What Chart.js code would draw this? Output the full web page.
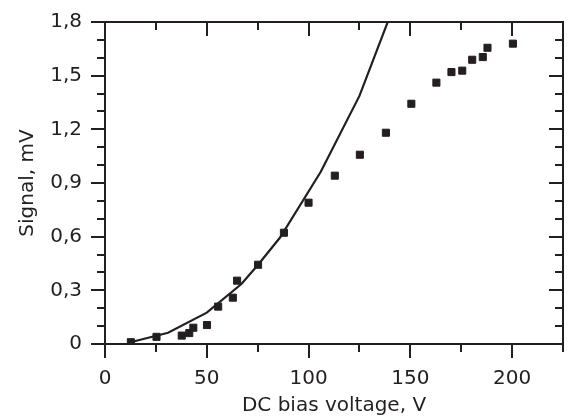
<!DOCTYPE html>
<html>
<head>
<meta charset="utf-8">
<script src="https://cdn.jsdelivr.net/npm/chart.js@4/dist/chart.umd.min.js"></script>
<style>
  body { margin: 0; background: #fff; }
  #wrap { width: 569px; height: 418px; }
</style>
</head>
<body>
<div id="wrap"><canvas id="chartSignal" width="569" height="418"></canvas></div>
<script>
// measured points
var voltage = [12.7, 25.3, 37.7, 41.4, 43.4, 50.1, 55.6, 62.8, 64.9, 75.2, 87.9, 100, 112.9, 125.2, 138, 150.5, 162.8, 170.2, 175.5, 180.4, 185.6, 187.9, 200.4];
var signal  = [0.01, 0.04, 0.047, 0.061, 0.091, 0.106, 0.209, 0.259, 0.354, 0.443, 0.622, 0.79, 0.941, 1.058, 1.181, 1.343, 1.461, 1.52, 1.528, 1.589, 1.604, 1.656, 1.679];

// calculated curve
var modelVoltage = [12.5, 31, 50, 67, 75, 86, 106, 125, 150];
var modelSignal  = [0.01, 0.063, 0.175, 0.335, 0.44, 0.595, 0.963, 1.387, 2.13];

// axes
var xTicks = [0, 50, 100, 150, 200];
var xMinor = [25, 75, 125, 175, 225];
var yTicks = [0, 0.3, 0.6, 0.9, 1.2, 1.5, 1.8];
var yMinor = [0.1, 0.2, 0.4, 0.5, 0.7, 0.8, 1.0, 1.1, 1.3, 1.4, 1.6, 1.7];

var ink = '#231f20';
var fontFamily = '"DejaVu Sans", sans-serif';

var toPoints = function (xs, ys) {
    var pts = [];
    for (var i = 0; i < xs.length; i++) {
        pts.push({x: xs[i], y: ys[i]});
    }
    return pts;
};

var frameTicks = {
    id: 'frameTicks',
    afterDraw: function (chart) {
        var ctx = chart.ctx;
        var a = chart.chartArea;
        var sx = chart.scales.x, sy = chart.scales.y;
        var major = 14, minor = 8;
        ctx.save();
        ctx.strokeStyle = ink;
        ctx.lineWidth = 2;
        ctx.strokeRect(a.left, a.top, a.right - a.left, a.bottom - a.top);
        ctx.beginPath();
        var xt = function (list, len) {
            list.forEach(function (v) {
                var p = Math.round(sx.getPixelForValue(v));
                ctx.moveTo(p, a.bottom); ctx.lineTo(p, a.bottom + len);
                ctx.moveTo(p, a.top); ctx.lineTo(p, a.top + len);
            });
        };
        var yt = function (list, len) {
            list.forEach(function (v) {
                var p = Math.round(sy.getPixelForValue(v));
                ctx.moveTo(a.left, p); ctx.lineTo(a.left - len, p);
                ctx.moveTo(a.right, p); ctx.lineTo(a.right - len, p);
            });
        };
        xt(xTicks, major); xt(xMinor, minor);
        yt(yTicks, major); yt(yMinor, minor);
        ctx.stroke();
        ctx.restore();
    }
};

var ctx = document.getElementById('chartSignal');
var myChart = new Chart(ctx, {
    type: 'scatter',
    data: {
        datasets: [
            {
                label: 'calc',
                data: toPoints(modelVoltage, modelSignal),
                showLine: true,
                borderColor: ink,
                borderWidth: 2.2,
                pointRadius: 0,
                tension: 0
            },
            {
                label: 'exp',
                data: toPoints(voltage, signal),
                pointStyle: 'rect',
                pointRadius: 5,
                pointBorderWidth: 1,
                pointBackgroundColor: ink,
                pointBorderColor: ink
            }
        ]
    },
    options: {
        responsive: false,
        animation: false,
        layout: {padding: {top: 22, right: 4, left: 0, bottom: 0}},
        plugins: {legend: {display: false}, tooltip: {enabled: false}},
        scales: {
            x: {
                type: 'linear',
                min: 0,
                max: 225,
                grid: {display: false},
                border: {display: false},
                afterBuildTicks: function (s) { s.ticks = xTicks.map(function (v) { return {value: v}; }); },
                afterFit: function (s) {
                    s.height = 74;
                    s.paddingLeft = 0; s.paddingRight = 0;
                },
                ticks: {
                    color: ink,
                    padding: 15,
                    maxRotation: 0,
                    font: {family: fontFamily, size: 20},
                    callback: function (v) { return String(v); }
                },
                title: {
                    display: true,
                    text: 'DC bias voltage, V',
                    color: ink,
                    font: {family: fontFamily, size: 20},
                    padding: {top: 0, bottom: 0}
                }
            },
            y: {
                type: 'linear',
                min: 0,
                max: 1.8,
                grid: {display: false},
                border: {display: false},
                afterBuildTicks: function (s) { s.ticks = yTicks.map(function (v) { return {value: v}; }); },
                afterFit: function (s) {
                    s.width = 105;
                    s.paddingTop = 0; s.paddingBottom = 0;
                },
                ticks: {
                    color: ink,
                    padding: 15,
                    font: {family: fontFamily, size: 20},
                    callback: function (v) { return v === 0 ? '0' : v.toFixed(1).replace('.', ','); }
                },
                title: {
                    display: true,
                    text: 'Signal, mV',
                    color: ink,
                    font: {family: fontFamily, size: 20},
                    padding: {top: 16, bottom: 0}
                }
            }
        }
    },
    plugins: [frameTicks]
});
</script>
</body>
</html>
